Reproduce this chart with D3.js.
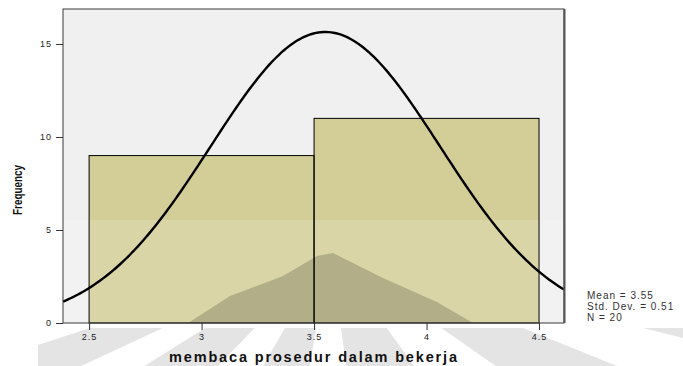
<!DOCTYPE html>
<html>
<head>
<meta charset="utf-8">
<script src="https://cdn.jsdelivr.net/npm/d3@7"></script>
<style>
  html, body { margin: 0; padding: 0; background: #ffffff; }
  svg { display: block; }
  text { font-family: Arial, "Liberation Sans", sans-serif; }
</style>
</head>
<body>
<svg id="chart" width="683" height="366"></svg>
<script>
// Histogram data
const binEdges = [2.5, 3.5, 4.5];
const binCounts = [9, 11];
const xTicks = [2.5, 3, 3.5, 4, 4.5];
const xTickLabels = ["2.5", "3", "3.5", "4", "4.5"];
const yTicks = [0, 5, 10, 15];
const statMean = 3.55;
const statSD = 0.51;
const statN = 20;
const statLines = ["Mean = 3.55", "Std. Dev. = 0.51", "N = 20"];
const xTitle = "membaca prosedur dalam bekerja";
const yTitle = "Frequency";

const svg = d3.select("#chart");
const plot = { left: 63, right: 564, top: 9, bottom: 323 };

const x = d3.scaleLinear().domain([2.384, 4.611]).range([plot.left, plot.right]);
const y = d3.scaleLinear().domain([0, 16.88]).range([plot.bottom, plot.top]);

// plot background
svg.append("rect")
  .attr("x", plot.left).attr("y", plot.top)
  .attr("width", plot.right - plot.left).attr("height", plot.bottom - plot.top)
  .attr("fill", "#f0f0f0");

const bins = binCounts.map((c, i) => ({ x0: binEdges[i], x1: binEdges[i + 1], count: c }));

// bar fills
svg.append("g").selectAll("rect").data(bins).join("rect")
  .attr("x", d => x(d.x0)).attr("y", d => y(d.count))
  .attr("width", d => x(d.x1) - x(d.x0)).attr("height", d => y(0) - y(d.count))
  .attr("fill", "#d3ce97");

// faint emblem in the lower part of the page
const emblem = svg.append("g");
emblem.append("rect")
  .attr("x", plot.left).attr("y", 220)
  .attr("width", plot.right - plot.left).attr("height", plot.bottom - 220)
  .attr("fill", "#ffffff").attr("opacity", 0.15);
const peak = [[188,323],[230,296],[283,276],[317,256],[333,253],[383,278],[437,302],[473,323]];
emblem.append("path")
  .attr("d", d3.line()(peak) + "Z")
  .attr("fill", "#000000").attr("opacity", 0.18);
svg.append("clipPath").attr("id", "raysClip")
  .append("rect").attr("x", 38).attr("y", 328).attr("width", 645).attr("height", 38);
const rays = [[-72,-65],[-58,-44],[-30,-10],[8,36],[55,68],[76,84]];
const cx = 330, cy = 250, R = 900, rad = Math.PI / 180;
emblem.append("g").attr("clip-path", "url(#raysClip)")
  .selectAll("path").data(rays).join("path")
  .attr("d", d => {
    const a0 = d[0] * rad, a1 = d[1] * rad;
    return `M${cx},${cy}L${cx + R * Math.sin(a0)},${cy + R * Math.cos(a0)}L${cx + R * Math.sin(a1)},${cy + R * Math.cos(a1)}Z`;
  })
  .attr("fill", "#e4e4e4");

// bar outlines
svg.append("g").selectAll("rect").data(bins).join("rect")
  .attr("x", d => x(d.x0)).attr("y", d => y(d.count))
  .attr("width", d => x(d.x1) - x(d.x0)).attr("height", d => y(0) - y(d.count))
  .attr("fill", "none").attr("stroke", "#000").attr("stroke-width", 1);

// fitted normal curve
const binWidth = binEdges[1] - binEdges[0];
const normal = v => statN * binWidth * Math.exp(-0.5 * ((v - statMean) / statSD) ** 2) / (statSD * Math.sqrt(2 * Math.PI));
const curveXs = d3.range(0, 201).map(i => x.domain()[0] + (x.domain()[1] - x.domain()[0]) * i / 200);
svg.append("path")
  .datum(curveXs)
  .attr("d", d3.line().x(v => x(v)).y(v => y(normal(v))))
  .attr("fill", "none").attr("stroke", "#000").attr("stroke-width", 2.4);

// frame
svg.append("rect")
  .attr("x", plot.left).attr("y", plot.top)
  .attr("width", plot.right - plot.left).attr("height", plot.bottom - plot.top)
  .attr("fill", "none").attr("stroke", "#3a3a3a").attr("stroke-width", 1);
svg.append("line")
  .attr("x1", plot.right + 0.5).attr("x2", plot.right + 0.5)
  .attr("y1", plot.top).attr("y2", plot.bottom)
  .attr("stroke", "#555").attr("stroke-width", 2);

// axes
const yAxis = svg.append("g").attr("transform", `translate(${plot.left},0)`)
  .call(d3.axisLeft(y).tickValues(yTicks).tickSize(7).tickPadding(4));
const xAxis = svg.append("g").attr("transform", `translate(0,${plot.bottom})`)
  .call(d3.axisBottom(x).tickValues(xTicks).tickFormat((d, i) => xTickLabels[i]).tickSize(7).tickPadding(4));
[yAxis, xAxis].forEach(a => {
  a.select(".domain").remove();
  a.selectAll(".tick line").attr("stroke", "#333");
  a.selectAll(".tick text").attr("fill", "#222").attr("font-size", 9)
    .attr("font-family", "Arial, 'Liberation Sans', sans-serif").attr("letter-spacing", 1);
});

// axis titles
svg.append("text")
  .attr("x", 313).attr("y", 362).attr("text-anchor", "middle")
  .attr("font-size", 14.5).attr("font-weight", "bold").attr("fill", "#111")
  .attr("textLength", 288).attr("lengthAdjust", "spacing")
  .text(xTitle);
svg.append("text")
  .attr("transform", "translate(22,190) rotate(-90)")
  .attr("text-anchor", "middle")
  .attr("font-size", 12).attr("font-weight", "bold").attr("fill", "#111")
  .attr("textLength", 50).attr("lengthAdjust", "spacingAndGlyphs")
  .text(yTitle);

// summary statistics
svg.append("g").selectAll("text").data(statLines).join("text")
  .attr("x", 587).attr("y", (d, i) => 299 + i * 11)
  .attr("font-size", 10).attr("fill", "#333").attr("letter-spacing", 1)
  .text(d => d);
</script>
</body>
</html>
